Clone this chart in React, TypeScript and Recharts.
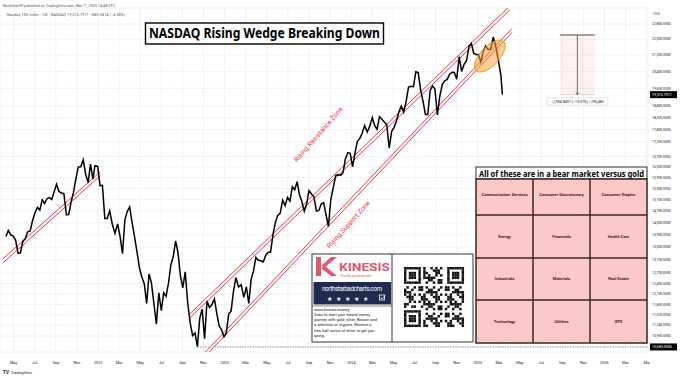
import React from 'react';
import { ComposedChart, Line, XAxis, YAxis, CartesianGrid, ReferenceLine, ReferenceArea, ReferenceDot } from 'recharts';

const weekDates: string[] = [
  '2021-04-09','2021-04-16','2021-04-23','2021-04-30','2021-05-07','2021-05-14','2021-05-21','2021-05-28',
  '2021-06-04','2021-06-11','2021-06-18','2021-06-25','2021-07-02','2021-07-09','2021-07-16','2021-07-23','2021-07-30',
  '2021-08-06','2021-08-13','2021-08-20','2021-08-27','2021-09-03','2021-09-10','2021-09-17','2021-09-24',
  '2021-10-01','2021-10-08','2021-10-15','2021-10-22','2021-10-29','2021-11-05','2021-11-12','2021-11-19','2021-11-26',
  '2021-12-03','2021-12-10','2021-12-17','2021-12-23','2021-12-31',
  '2022-01-07','2022-01-14','2022-01-21','2022-01-28','2022-02-04','2022-02-11','2022-02-18','2022-02-25',
  '2022-03-04','2022-03-11','2022-03-18','2022-03-25','2022-04-01','2022-04-08','2022-04-14','2022-04-22','2022-04-29',
  '2022-05-06','2022-05-13','2022-05-20','2022-05-27','2022-06-03','2022-06-10','2022-06-17','2022-06-24',
  '2022-07-01','2022-07-08','2022-07-15','2022-07-22','2022-07-29','2022-08-05','2022-08-12','2022-08-19','2022-08-26',
  '2022-09-02','2022-09-09','2022-09-16','2022-09-23','2022-09-30','2022-10-07','2022-10-14','2022-10-21','2022-10-28',
  '2022-11-04','2022-11-11','2022-11-18','2022-11-25','2022-12-02','2022-12-09','2022-12-16','2022-12-23','2022-12-30',
  '2023-01-06','2023-01-13','2023-01-20','2023-01-27','2023-02-03','2023-02-10','2023-02-17','2023-02-24',
  '2023-03-03','2023-03-10','2023-03-17','2023-03-24','2023-03-31','2023-04-06','2023-04-14','2023-04-21','2023-04-28',
  '2023-05-05','2023-05-12','2023-05-19','2023-05-26','2023-06-02','2023-06-09','2023-06-16','2023-06-23','2023-06-30',
  '2023-07-07','2023-07-14','2023-07-21','2023-07-28','2023-08-04','2023-08-11','2023-08-18','2023-08-25',
  '2023-09-01','2023-09-08','2023-09-15','2023-09-22','2023-09-29','2023-10-06','2023-10-13','2023-10-20','2023-10-27',
  '2023-11-03','2023-11-10','2023-11-17','2023-11-24','2023-12-01','2023-12-08','2023-12-15','2023-12-22','2023-12-29',
  '2024-01-05','2024-01-12','2024-01-19','2024-01-26','2024-02-02','2024-02-09','2024-02-16','2024-02-23',
  '2024-03-01','2024-03-08','2024-03-15','2024-03-22','2024-03-28','2024-04-05','2024-04-12','2024-04-19','2024-04-26',
  '2024-05-03','2024-05-10','2024-05-17','2024-05-24','2024-05-31','2024-06-07','2024-06-14','2024-06-21','2024-06-28',
  '2024-07-05','2024-07-12','2024-07-19','2024-07-26','2024-08-02','2024-08-09','2024-08-16','2024-08-23','2024-08-30',
  '2024-09-06','2024-09-13','2024-09-20','2024-09-27','2024-10-04','2024-10-11','2024-10-18','2024-10-25',
  '2024-11-01','2024-11-08','2024-11-15','2024-11-22','2024-11-29','2024-12-06','2024-12-13','2024-12-20','2024-12-27',
  '2025-01-03','2025-01-10','2025-01-17','2025-01-24','2025-01-31','2025-02-07','2025-02-14','2025-02-21','2025-02-28',
  '2025-03-07','2025-03-11',
];

const closes: number[] = [
  13845,14041,13900,13860,13720,13311,13320,13686,
  13770,13999,14024,14373,14640,14827,14730,15087,14960,
  15130,15170,15100,15375,15652,15390,15330,15310,
  14570,14580,15020,15357,15850,16300,16310,16573,16025,
  15712,16410,15840,16350,16320,
  15600,15611,14439,14440,14700,14250,13950,14260,
  13840,13300,14400,14690,14840,14300,13900,13350,12850,
  12580,12390,11830,12680,12410,11830,11270,12130,
  11630,12130,12030,12400,12950,13200,13700,13330,12640,
  12270,12740,11850,11310,10970,11040,10690,11430,11670,
  10890,11900,11720,11800,11960,11560,11220,11130,10940,
  11040,11540,11620,12170,12570,12300,12360,12000,
  12300,11830,12520,12770,13180,13100,13080,13040,13250,
  13340,13340,13900,14300,14550,14620,15080,14890,15180,
  15040,15560,15450,15750,15270,15030,14690,14940,
  15420,15300,15200,14700,14720,14940,14990,14570,14180,
  15100,15530,15980,16000,15990,16080,16620,16860,16830,
  16300,16830,17310,17420,17640,17960,17690,17940,
  18300,17960,17810,18340,18250,18110,18000,17040,17720,
  17890,18160,18550,18810,18540,19000,19660,19700,19680,
  20390,20330,19520,19020,18440,18440,19510,19720,19570,
  18420,19260,19790,19950,20020,20270,20360,20350,
  20030,21120,20400,20740,20930,21620,21780,21290,21220,
  21210,20850,21380,21650,21480,21490,22110,21610,20880,
  20200,19315.7911,
];

const xTickMonths: number[] = [4,6,8,10,12,14,16,18,20,22,24,26,28,30,32,34,36,38,40,42,44,46,48,50,52,54,56,58,60,62,64];
const xTickLabels: string[] = ['May','Jul','Sep','Nov','2022','Mar','May','Jul','Sep','Nov','2023','Mar','May','Jul','Sep','Nov','2024','Mar','May','Jul','Sep','Nov','2025','Mar','May','Jul','Sep','Nov','2026','Mar','Ma'];

const yTicks: number[] = [22800,22000,21200,20400,19600,18800,18300,17800,17300,16700,16300,15900,15500,15100,14700,14300,13900,13500,13100,12700,12400,12100,11800,11520,11240,10960];

// trend line anchors [date, value]
const leftLine: [string, number][] = [['2021-03-31', 13010], ['2022-01-07', 15958]];
const resistanceLine: [string, number][] = [['2022-09-22', 11435], ['2025-04-02', 23562]];
const supportLine: [string, number][] = [['2022-11-04', 10436], ['2025-04-08', 22344]];

const lastClose = 19315.7911;
const lowLevel = 10683.0006;
const lowDate = '2022-10-14';
const rangeHigh = 22220.6408;
const rangeStart = '2025-08-25';
const rangeEnd = '2025-12-04';
const rangeLabel = '\u22122,904.8497 (\u221213.07%) \u2212290,485';
const ellipseAnchor: [string, number] = ['2025-02-05', 21150];

const headerLine1 = 'NorthStar09 published on TradingView.com, Mar 11, 2025 14:48 UTC';
const headerLine2 = 'Nasdaq 100 Index \u00b7 1W \u00b7 NASDAQ  19,315.7911  \u2212885.5814 (\u22124.38%)';
const titleText = 'NASDAQ Rising Wedge Breaking Down';
const tableTitle = 'All of these are in a bear market versus gold';
const tableCells: string[] = [
  'Communication Services','Consumer Discretionary','Consumer Staples',
  'Energy','Financials','Health Care',
  'Industrials','Materials','Real Estate',
  'Technology','Utilities','SPX',
];
const kinesisLines: string[] = [
  'www.kinesis.money',
  'Scan to start your sound money',
  'journey with gold, silver, Bitcoin and',
  'a selection of cryptos. Receive a',
  'free half ounce of silver to get you',
  'going.',
];

function toT(s: string): number {
  const [y, m, d] = s.split('-').map(Number);
  const dim = new Date(y, m, 0).getDate();
  return (y - 2021) * 12 + (m - 1) + (d - 1) / dim;
}

const data = weekDates.map((d, i) => ({ t: toT(d), close: closes[i] }));

const fmtPrice = (v: number) => v.toLocaleString('en-US', { minimumFractionDigits: 4, maximumFractionDigits: 4 });

const RED = '#f23645';
const FONT = 'Roboto, "Noto Sans", sans-serif';

function seg(line: [string, number][], factor = 1) {
  return [{ x: toT(line[0][0]), y: line[0][1] * factor }, { x: toT(line[1][0]), y: line[1][1] * factor }];
}

const XTick = (props: any) => {
  const { x, y, payload } = props;
  const idx = xTickMonths.indexOf(payload.value);
  return (
    <text x={x} y={y} dy={11.5} textAnchor="middle" fontSize={3.9} fill="#131722" fontFamily={FONT}>
      {xTickLabels[idx]}
    </text>
  );
};

const YTick = (props: any) => {
  const { y, payload } = props;
  return (
    <text x={648 + 4} y={y} dy={1.2} textAnchor="start" fontSize={3.4} fill="#131722" fontFamily={FONT}>
      {fmtPrice(payload.value)}
    </text>
  );
};

function qrCells(): { r: number; c: number }[] {
  const n = 25;
  const out: { r: number; c: number }[] = [];
  const inFinder = (r: number, c: number) =>
    (r < 8 && c < 8) || (r < 8 && c >= n - 8) || (r >= n - 8 && c < 8);
  const finderDark = (r: number, c: number) => {
    const rr = r < 8 ? r : r - (n - 7);
    const cc = c < 8 ? c : c - (n - 7);
    if (rr < 0 || cc < 0 || rr > 6 || cc > 6) return false;
    if (rr === 0 || rr === 6 || cc === 0 || cc === 6) return true;
    return rr >= 2 && rr <= 4 && cc >= 2 && cc <= 4;
  };
  for (let r = 0; r < n; r++) {
    for (let c = 0; c < n; c++) {
      if (inFinder(r, c)) {
        if (finderDark(r, c)) out.push({ r, c });
      } else if ((r * 31 + c * 17 + r * c * 7) % 11 < 5) {
        out.push({ r, c });
      }
    }
  }
  return out;
}

const Overlay = () => {
  const cols = [476, 533, 590, 647];
  const rows = [179, 215, 258, 300, 343];
  const qr = qrCells();
  const qx = 404, qy = 267, qs = 2.4;
  return (
    <svg width={680} height={378} style={{ position: 'absolute', left: 0, top: 0, pointerEvents: 'none' }}>
      <text x={3} y={6.5} fontSize={3.6} fill="#50535e" fontFamily={FONT} textLength={112}>{headerLine1}</text>
      <text x={7} y={15.5} fontSize={3.6} fill="#50535e" fontFamily={FONT} textLength={118}>{headerLine2}</text>
      <text x={653} y={15} fontSize={3.6} fill="#50535e" fontFamily={FONT}>USD</text>

      <rect x={145.5} y={23} width={238} height={21} fill="#fff" stroke="#000" strokeWidth={1.4} />
      <text x={149} y={38} fontSize={14} fontWeight={700} fill="#000" fontFamily='"Noto Sans", sans-serif' textLength={231} lengthAdjust="spacingAndGlyphs">{titleText}</text>

      <text transform="translate(320,136) rotate(-49)" textAnchor="middle" fontSize={6.8} fill={RED} fontFamily={FONT}>Rising Resistance Zone</text>
      <text transform="translate(350,226) rotate(-48)" textAnchor="middle" fontSize={6.8} fill={RED} fontFamily={FONT}>Rising Support Zone</text>

      {/* bear market table */}
      <rect x={476} y={167} width={171} height={12} fill="#fff" stroke="#3b2a2a" strokeWidth={1} />
      <text x={479} y={176.5} fontSize={8.4} fontWeight={700} fill="#000" fontFamily='"Noto Sans", sans-serif' textLength={165} lengthAdjust="spacingAndGlyphs">{tableTitle}</text>
      <rect x={476} y={179} width={171} height={164} fill="#fcc9c9" stroke="#3b2424" strokeWidth={1.5} />
      {cols.slice(1, 3).map((cx) => (
        <line key={'c' + cx} x1={cx} y1={179} x2={cx} y2={343} stroke="#3b2424" strokeWidth={1.5} />
      ))}
      {rows.slice(1, 4).map((ry) => (
        <line key={'r' + ry} x1={476} y1={ry} x2={647} y2={ry} stroke="#3b2424" strokeWidth={1.5} />
      ))}
      {tableCells.map((txt, i) => {
        const c = i % 3, r = Math.floor(i / 3);
        const cx = (cols[c] + cols[c + 1]) / 2;
        const cy = (rows[r] + rows[r + 1]) / 2 + (r === 0 ? -2 : 0);
        return (
          <text key={txt} x={cx} y={cy + 1.4} textAnchor="middle" fontSize={4.1} fontWeight={700} fill="#4a2020" fontFamily={FONT}>{txt}</text>
        );
      })}

      {/* kinesis ad */}
      <rect x={312} y={254} width={161} height={88} fill="#fff" stroke="#333" strokeWidth={1} />
      <line x1={392} y1={254} x2={392} y2={342} stroke="#333" strokeWidth={1} />
      <path d="M316 257 H321 V276 H316 Z M321 266 L331 257 H337 L325 267 Z M325 266 L337 276 H331 L321 268 Z" fill="#e0566c" />
      <text x={339} y={271} fontSize={11} fontWeight={700} fill="#e0566c" fontFamily={FONT} textLength={51} lengthAdjust="spacingAndGlyphs">KINESIS</text>
      <text x={356} y={276.5} textAnchor="middle" fontSize={3} fill="#e0566c" fontFamily={FONT}>Proudly partnered with</text>
      <rect x={313.5} y={282} width={77.5} height={22.5} fill="#1e2a4f" />
      <text x={352} y={291} textAnchor="middle" fontSize={6.4} fill="#fff" fontFamily={FONT} textLength={60}>northstarbadcharts.com</text>
      <text x={349} y={300.5} textAnchor="middle" fontSize={6} fill="#fff" fontFamily={FONT} letterSpacing={4}>{'\u2605\u2605\u2605\u2605\u2605'}</text>
      <rect x={379.5} y={295} width={5} height={5} fill="none" stroke="#fff" strokeWidth={0.8} />
      <path d="M380.5 297.5 L382 299 L385 295.5" fill="none" stroke="#fff" strokeWidth={0.8} />
      <line x1={312} y1={306} x2={392} y2={306} stroke="#333" strokeWidth={0.6} />
      {kinesisLines.map((l, i) => (
        <text key={l} x={314} y={310.5 + i * 5.3} fontSize={4} fill="#111" fontFamily={FONT}>{l}</text>
      ))}
      {qr.map(({ r, c }) => (
        <rect key={r + '-' + c} x={qx + c * qs} y={qy + r * qs} width={qs + 0.05} height={qs + 0.05} fill="#111" />
      ))}

      {/* TradingView logo */}
      <text x={3} y={374} fontSize={4.6} fontWeight={700} fill="#131722" fontFamily={FONT}>TV</text>
      <text x={11} y={374} fontSize={3.8} fill="#131722" fontFamily={FONT}>TradingView</text>
    </svg>
  );
};

export default function App() {
  const rs = toT(rangeStart), re = toT(rangeEnd), rm = (rs + re) / 2;
  const lowT = toT(lowDate);
  return (
    <div style={{ position: 'absolute', left: 0, top: 0, width: 680, height: 378, background: '#fff', overflow: 'hidden' }}>
      <ComposedChart width={680} height={378} data={data} margin={{ top: 8, right: 0, left: 0, bottom: 10 }}>
        <CartesianGrid stroke="#f0f2f6" strokeWidth={1} />
        <XAxis
          dataKey="t"
          type="number"
          domain={[2.711, 64.13]}
          ticks={xTickMonths}
          allowDataOverflow
          height={16}
          tickSize={0}
          tickMargin={0}
          axisLine={false}
          tickLine={false}
          tick={<XTick />}
          interval={0}
        />
        <YAxis
          orientation="right"
          scale="log"
          domain={[10557, 23673]}
          allowDataOverflow
          ticks={yTicks}
          width={32}
          tickSize={0}
          tickMargin={0}
          axisLine={false}
          tickLine={false}
          tick={<YTick />}
          interval={0}
        />
        <ReferenceArea x1={rs} x2={re} y1={lastClose} y2={rangeHigh} fill="#f23645" fillOpacity={0.07} stroke="none" ifOverflow="visible" />
        <ReferenceLine segment={[{ x: rs, y: rangeHigh }, { x: re, y: rangeHigh }]} stroke="#4a4a4a" strokeWidth={1} ifOverflow="visible" />
        <ReferenceLine segment={[{ x: rs, y: lastClose }, { x: re, y: lastClose }]} stroke="#bbb" strokeWidth={0.6} ifOverflow="visible" />
        <ReferenceLine segment={[{ x: rm, y: rangeHigh }, { x: rm, y: lastClose }]} stroke="#4a4a4a" strokeWidth={0.8} ifOverflow="visible" />
        <ReferenceDot
          x={rm}
          y={lastClose}
          r={1}
          ifOverflow="visible"
          shape={(p: any) => (
            <g>
              <path d={`M${p.cx - 1.5} ${p.cy - 2} L${p.cx} ${p.cy} L${p.cx + 1.5} ${p.cy - 2}`} fill="none" stroke="#4a4a4a" strokeWidth={0.7} />
              <rect x={p.cx - 30.5} y={p.cy + 3} width={61} height={7.5} fill="#fff" stroke="#d0d3da" strokeWidth={0.6} rx={1} />
              <text x={p.cx} y={p.cy + 8.2} textAnchor="middle" fontSize={3.6} fill="#131722" fontFamily={FONT}>{rangeLabel}</text>
            </g>
          )}
        />

        {[1, 1.0095].map((f) => (
          <ReferenceLine key={'l' + f} segment={seg(leftLine, f)} stroke={RED} strokeWidth={1} ifOverflow="hidden" />
        ))}
        {[1, 1.0095].map((f) => (
          <ReferenceLine key={'r' + f} segment={seg(resistanceLine, f)} stroke={RED} strokeWidth={1} ifOverflow="hidden" />
        ))}
        {[1, 1.0095].map((f) => (
          <ReferenceLine key={'s' + f} segment={seg(supportLine, f)} stroke={RED} strokeWidth={1} ifOverflow="hidden" />
        ))}

        <ReferenceLine segment={[{ x: lowT, y: lowLevel }, { x: 64.13, y: lowLevel }]} stroke="#b2b5be" strokeWidth={1.6} strokeDasharray="1.5 1" ifOverflow="visible" />

        <Line dataKey="close" stroke="#000" strokeWidth={1.5} dot={false} isAnimationActive={false} />

        <ReferenceDot
          x={toT(ellipseAnchor[0])}
          y={ellipseAnchor[1]}
          r={1}
          ifOverflow="visible"
          shape={(p: any) => (
            <ellipse cx={p.cx} cy={p.cy} rx={20} ry={9.5} transform={`rotate(-47 ${p.cx} ${p.cy})`} fill="#f7a23b" fillOpacity={0.55} stroke="#f08a00" strokeWidth={0.8} />
          )}
        />

        <ReferenceDot
          x={64.13}
          y={lastClose}
          r={1}
          ifOverflow="visible"
          shape={(p: any) => (
            <g>
              <rect x={p.cx + 2} y={p.cy - 3.5} width={27} height={7} fill="#000" />
              <text x={p.cx + 4} y={p.cy + 1.3} fontSize={3.6} fill="#fff" fontFamily={FONT}>{fmtPrice(lastClose)}</text>
            </g>
          )}
        />
        <ReferenceDot
          x={64.13}
          y={lowLevel}
          r={1}
          ifOverflow="visible"
          shape={(p: any) => (
            <g>
              <rect x={p.cx + 2} y={p.cy - 3.5} width={27} height={7} fill="#000" />
              <text x={p.cx + 4} y={p.cy + 1.3} fontSize={3.6} fill="#fff" fontFamily={FONT}>{fmtPrice(lowLevel)}</text>
            </g>
          )}
        />
      </ComposedChart>
      <Overlay />
    </div>
  );
}
